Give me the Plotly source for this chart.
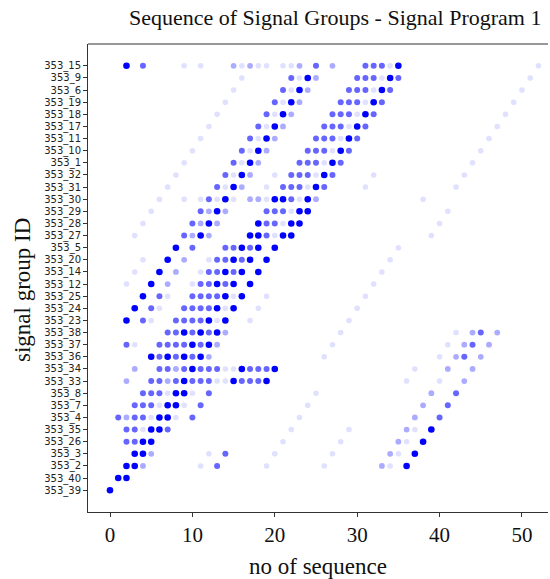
import plotly.graph_objects as go

# signal groups, top to bottom as displayed
signal_groups = ["353_15", "353_9", "353_6", "353_19", "353_18", "353_17", "353_11", "353_10",
                 "353_1", "353_32", "353_31", "353_30", "353_29", "353_28", "353_27", "353_5",
                 "353_20", "353_14", "353_12", "353_25", "353_24", "353_23", "353_38", "353_37",
                 "353_36", "353_34", "353_33", "353_8", "353_7", "353_4", "353_35", "353_26",
                 "353_3", "353_2", "353_40", "353_39"]

# sequence positions per group, split by how often they occur (strong -> rare)
seq_strong = [[2, 35], [24, 34], [23, 33], [22, 32], [21, 31], [20, 30], [19, 29], [18, 28],
              [17, 27], [16, 26], [15, 25], [14, 20, 21, 24], [13, 23, 24], [12, 18, 22, 23],
              [11, 17, 18, 21, 22], [8, 16, 18, 20], [7, 15, 17, 19], [6, 14, 16, 18],
              [5, 13, 15, 17], [4, 14, 16], [3, 13, 15], [2, 12, 14], [9, 11, 13], [10, 12],
              [5, 7, 9, 11], [10, 16, 20], [9, 15, 19], [8, 9], [7, 8], [6, 7], [5, 6, 39],
              [4, 5, 38], [3, 4, 37], [2, 3, 36], [1, 2], [0]]
seq_medium = [[4, 25, 31, 32, 33], [22, 30, 31, 32, 35], [21, 29, 30, 31, 34], [20, 28, 29, 30, 33],
              [19, 27, 28, 29, 32], [18, 26, 27, 28, 31], [17, 25, 26, 27, 30], [16, 24, 25, 26, 29],
              [15, 23, 24, 25, 28], [14, 22, 23, 24, 27], [13, 21, 22, 23, 26], [12, 22],
              [11, 19, 20, 21], [10, 19, 20], [9, 19], [10, 14, 15, 17], [13, 14, 16], [12, 13, 15],
              [11, 12, 14], [6, 10, 11, 12, 13], [5, 9, 10, 11, 12], [4, 8, 9, 10, 11],
              [7, 8, 10, 12, 45], [2, 6, 7, 8, 9, 11, 44], [6, 8, 10, 43],
              [6, 7, 9, 11, 12, 13, 17, 18, 19], [5, 6, 8, 10, 11, 12, 16, 17, 18],
              [4, 5, 6, 12, 42], [3, 4, 5, 11, 41], [1, 3, 4, 10, 40], [2, 3, 7], [2, 3],
              [14], [13], [], []]
seq_light = [[15, 17, 23, 27], [25], [24], [23], [22], [21], [20], [19], [18], [17], [16],
             [17, 18, 25], [12, 14], [11, 13], [10, 12], [], [9], [8], [7], [], [], [],
             [14, 44, 47], [13, 43, 46], [12, 42, 45], [3, 8, 41, 44], [2, 7, 43], [39], [38],
             [2, 37], [36], [35], [5, 34], [4, 33], [], []]
seq_rare = [[9, 11, 16, 18, 19, 21, 22, 34, 52], [16, 23, 33, 51], [15, 22, 32, 50],
            [14, 21, 31, 49], [13, 20, 30, 48], [12, 19, 29, 47], [11, 18, 28, 46],
            [10, 17, 27, 45], [9, 16, 26, 44], [8, 15, 20, 25, 32, 43], [7, 14, 19, 24, 31, 42],
            [6, 9, 11, 13, 15, 19, 23, 38], [5, 22, 41], [4, 21, 40], [3, 20, 39], [35],
            [4, 12, 34], [3, 11, 33], [2, 10, 32], [7, 15, 19, 31], [6, 14, 18, 30],
            [5, 13, 17, 29], [28, 42], [3, 27, 41], [26, 40], [14, 15, 37], [13, 14, 36, 40],
            [7, 10, 25], [6, 9, 24], [5, 8, 23], [4, 22, 29, 37], [21, 28, 36],
            [12, 20, 27, 35], [11, 19, 26, 34], [], []]

x_ticks = [0, 10, 20, 30, 40, 50]

levels = [(seq_rare, 0.12, 5.6), (seq_light, 0.33, 5.8), (seq_medium, 0.6, 6.0), (seq_strong, 1.0, 6.6)]

n = len(signal_groups)
xs, ys, ops, sizes = [], [], [], []
for data, op, sz in levels:
    for i, seqs in enumerate(data):
        yi = n - 1 - i
        for s in seqs:
            xs.append(s)
            ys.append(yi)
            ops.append(op)
            sizes.append(sz)

fig = go.Figure()
fig.add_trace(go.Scatter(
    x=xs, y=ys, mode="markers",
    marker=dict(color="#0000ff", size=sizes, opacity=ops, line=dict(width=0)),
    hoverinfo="skip", showlegend=False,
))

serif = "Liberation Serif, Times New Roman, serif"
fig.update_layout(
    width=550, height=579,
    margin=dict(l=88, r=2, t=44, b=67),
    paper_bgcolor="white", plot_bgcolor="white",
    xaxis=dict(range=[-2.67, 53.16], tickvals=x_ticks, ticks="outside", ticklen=4,
               tickcolor="#333", showline=True, linecolor="#333", linewidth=1,
               showgrid=False, zeroline=False,
               tickfont=dict(family=serif, size=21, color="#111")),
    yaxis=dict(range=[-1.8, 36.8], tickvals=list(range(n)),
               ticktext=list(reversed(signal_groups)), ticks="outside", ticklen=4,
               tickcolor="#333", showline=True, linecolor="#333", linewidth=1,
               showgrid=False, zeroline=False,
               tickfont=dict(family="DejaVu Sans", size=10, color="#222")),
    shapes=[dict(type="line", xref="paper", yref="paper", x0=0, x1=1, y0=1, y1=1,
                 line=dict(color="#333", width=1))],
    annotations=[
        dict(text="Sequence of Signal Groups - Signal Program 1", xref="paper", yref="paper",
             x=(335 - 88) / 460, y=(512 - 18) / 468, xanchor="center", yanchor="middle",
             showarrow=False, font=dict(family=serif, size=22, color="#111")),
        dict(text="signal group ID", xref="paper", yref="paper", textangle=-90,
             x=(22 - 88) / 460, y=(512 - 290) / 468, xanchor="center", yanchor="middle",
             showarrow=False, font=dict(family=serif, size=23, color="#111")),
        dict(text="no of sequence", xref="paper", yref="paper",
             x=(318 - 88) / 460, y=(512 - 566) / 468, xanchor="center", yanchor="middle",
             showarrow=False, font=dict(family=serif, size=23, color="#111")),
    ],
)

fig.write_html("out.html")
